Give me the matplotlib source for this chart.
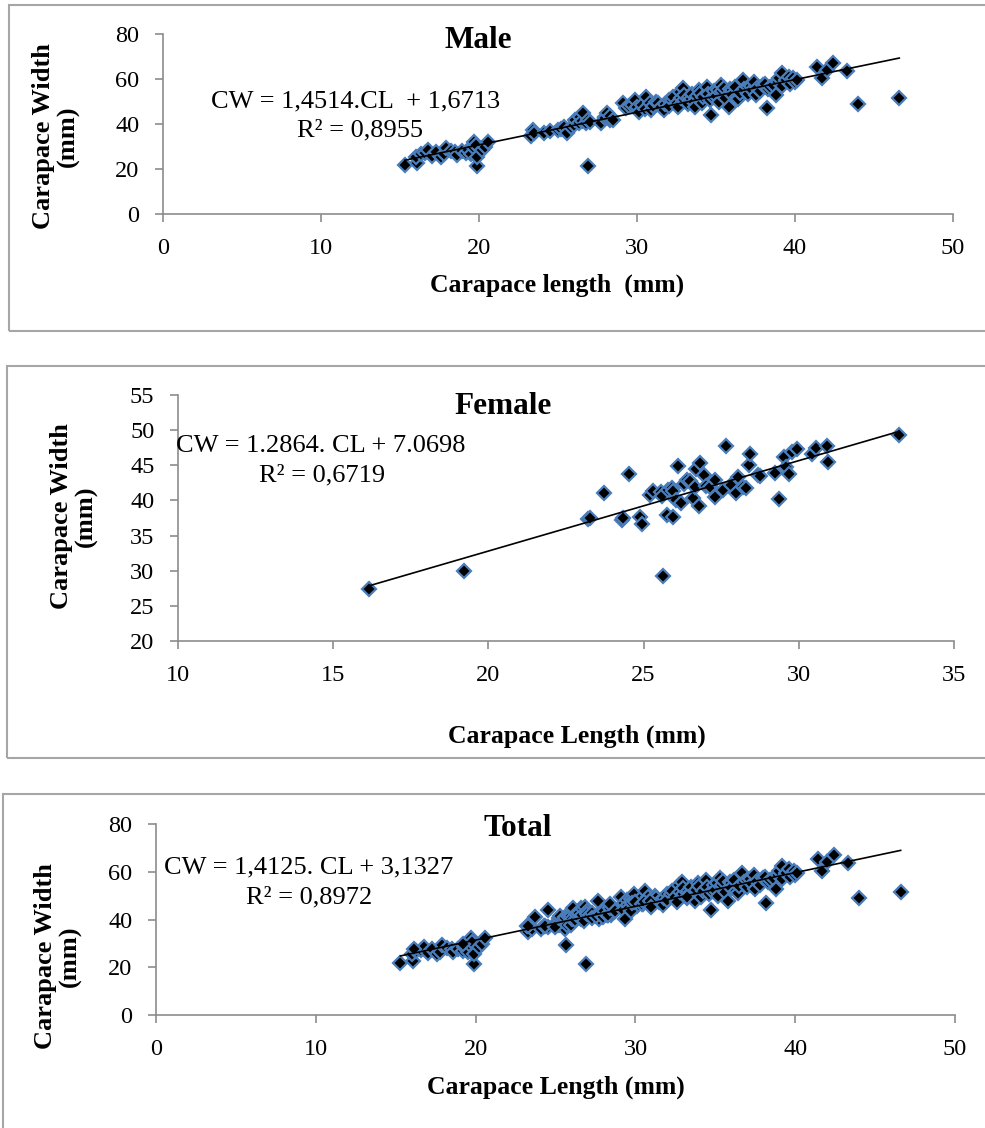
import matplotlib
matplotlib.use("Agg")
import matplotlib.pyplot as plt
from matplotlib.patches import Rectangle

plt.rcParams['font.family'] = ['Liberation Serif', 'DejaVu Serif']

# ---- data ----
male_cl = [15.3, 16.1, 16.0, 16.3, 16.6, 16.8, 17.0, 17.3, 17.6, 17.8, 17.9, 18.2, 18.5, 18.6,
           18.9, 19.2, 19.3, 19.5, 19.6, 19.7, 19.8, 19.9, 19.9, 20.2, 20.4, 20.6,
           23.3, 23.4, 23.5, 24.1, 24.5, 25.0, 25.2, 25.4, 25.6, 25.8, 26.0, 26.1, 26.3, 26.4,
           26.5, 26.6, 26.8, 26.9, 26.9, 27.0, 27.7, 28.0, 28.0, 28.1, 28.3, 28.3, 28.5,
           29.1, 29.3, 29.5, 29.7, 29.9, 30.0, 30.1, 30.3, 30.5, 30.6, 30.8, 30.9, 31.0, 31.2,
           31.3, 31.5, 31.7, 31.8, 32.0, 32.0, 32.2, 32.3, 32.5, 32.6, 32.7, 32.8, 32.9, 33.0,
           33.0, 33.2, 33.3, 33.4, 33.5, 33.6, 33.7, 33.8, 33.9, 34.0, 34.1, 34.2, 34.4, 34.5,
           34.6, 34.7, 34.8, 34.9, 35.0, 35.1, 35.2, 35.3, 35.4, 35.5, 35.6, 35.8, 35.9, 36.0,
           36.0, 36.2, 36.3, 36.4, 36.5, 36.7, 36.8, 37.0, 37.0, 37.2, 37.3, 37.4, 37.5, 37.6,
           37.8, 38.0, 38.1, 38.2, 38.3, 38.4, 38.6, 38.8, 38.9, 39.0, 39.2, 39.2, 39.4, 39.6,
           39.7, 39.9, 40.0, 40.1, 41.4, 41.7, 42.0, 42.4, 43.3, 44.0, 46.6]
male_cw = [21.8, 22.8, 25.5, 26.8, 27.2, 28.4, 26.0, 27.5, 25.5, 26.5, 29.3, 28.0, 27.7, 26.2,
           27.8, 27.0, 28.5, 26.5, 29.9, 32.1, 30.5, 21.5, 25.5, 28.5, 29.9, 32.1,
           34.7, 37.3, 36.2, 35.9, 37.0, 37.3, 37.8, 38.8, 36.0, 38.5, 39.5, 41.8, 40.5, 43.2,
           41.5, 44.7, 40.3, 42.0, 21.5, 41.0, 40.3, 43.2, 42.5, 44.9, 41.8, 43.5, 42.0,
           49.5, 47.0, 48.0, 48.4, 50.7, 47.5, 45.5, 48.5, 46.5, 51.9, 49.5, 46.2, 48.0, 50.0,
           49.2, 47.5, 46.2, 49.0, 50.7, 48.0, 50.5, 52.1, 49.5, 47.5, 54.4, 51.5, 55.9, 50.7,
           53.0, 49.0, 52.1, 51.0, 53.5, 50.0, 47.7, 52.5, 55.1, 54.0, 49.5, 52.0, 56.6, 53.5,
           50.5, 44.0, 52.1, 54.5, 52.5, 55.1, 50.0, 57.3, 54.5, 56.0, 51.5, 47.7, 55.5, 55.1,
           53.0, 56.5, 52.1, 51.0, 54.0, 59.6, 55.5, 56.6, 53.5, 57.0, 55.0, 58.8, 52.9, 56.0,
           54.5, 57.3, 58.0, 47.0, 55.5, 56.6, 57.5, 52.9, 58.5, 60.3, 62.5, 57.0, 59.5, 61.0,
           58.0, 60.5, 58.8, 59.5, 65.5, 60.3, 64.0, 67.0, 63.7, 48.8, 51.4]

female_cl = [16.15, 19.23, 23.22, 23.26, 23.74, 24.29, 24.34, 24.53, 24.9, 24.94, 25.2, 25.3,
             25.57, 25.6, 25.63, 25.75, 25.8, 25.93, 25.95, 25.96, 26.04, 26.1, 26.2, 26.29,
             26.4, 26.5, 26.6, 26.65, 26.7, 26.8, 26.83, 26.95, 27.0, 27.13, 27.3, 27.3,
             27.55, 27.64, 27.8, 27.97, 28.03, 28.2, 28.3, 28.4, 28.43, 28.7, 28.75, 29.23,
             29.35, 29.53, 29.6, 29.7, 29.77, 29.95, 30.43, 30.55, 30.91, 30.95, 33.24]
female_cw = [27.45, 29.9, 37.33, 37.45, 41.1, 37.2, 37.45, 43.8, 37.7, 36.65, 40.8, 41.37,
             41.2, 40.66, 29.25, 37.9, 41.5, 41.7, 41.37, 37.6, 40.06, 44.95, 39.7, 42.4,
             42.9, 42.8, 40.4, 41.95, 44.45, 39.2, 45.3, 43.6, 42.1, 41.95, 42.9, 40.5,
             41.5, 47.7, 42.2, 41.0, 43.4, 41.95, 41.8, 45.0, 46.6, 43.6, 43.5, 43.85,
             40.15, 46.2, 44.7, 43.75, 46.9, 47.3, 46.6, 47.5, 47.7, 45.4, 49.3]

# total = both sexes together
total_cl = male_cl + female_cl
total_cw = male_cw + female_cw

# fitted lines printed on the chart (slope, intercept)
male_fit = (1.4514, 1.6713)
female_fit = (1.2864, 7.0698)
total_fit = (1.4125, 3.1327)

W, H = 985, 1128
fig = plt.figure(figsize=(W / 100, H / 100), dpi=100)

AX_GRAY = '#8C8C8C'
BOX_GRAY = '#A6A6A6'
EDGE_BLUE = '#4A7EBB'


def fx(px):
    return px / W


def fy(py):
    return 1 - py / H


def panel(rect, cl, cw, fit, xlim, ylim, xstep, ystep):
    l, r, t, b = rect
    ax = fig.add_axes([fx(l), fy(b), fx(r - l), fy(t) - fy(b)])
    ax.plot(cl, cw, ls='none', marker='D', ms=7, mfc='black', mec=EDGE_BLUE, mew=1.6,
            clip_on=False, zorder=3)
    x0, x1 = min(cl), max(cl)
    ax.plot([x0, x1], [fit[0] * x0 + fit[1], fit[0] * x1 + fit[1]], color='black', lw=1.2,
            zorder=4)
    ax.set_xlim(*xlim)
    ax.set_ylim(*ylim)
    ax.set_xticks(range(xlim[0], xlim[1] + 1, xstep))
    ax.set_yticks(range(ylim[0], ylim[1] + 1, ystep))
    for s in ['top', 'right']:
        ax.spines[s].set_visible(False)
    for s in ['left', 'bottom']:
        ax.spines[s].set_color(AX_GRAY)
        ax.spines[s].set_linewidth(1.2)
    ax.tick_params(axis='both', color=AX_GRAY, width=1.2, length=6, labelsize=17.5)
    ax.tick_params(axis='x', pad=11)
    ax.tick_params(axis='y', pad=11)
    return ax


def box(left, top, bottom):
    fig.add_artist(Rectangle((fx(left), fy(bottom)), fx(W + 10 - left), fy(top) - fy(bottom),
                             transform=fig.transFigure, fill=False, ec=BOX_GRAY, lw=1.5))


def ylabel(x, y):
    fig.text(fx(x), fy(y), 'Carapace Width\n(mm)', fontsize=19, fontweight='bold', rotation=90,
             ha='center', va='center', multialignment='center', linespacing=1.05)


# ---- Male ----
box(9, 5, 331)
panel((163, 953, 34, 214), male_cl, male_cw, male_fit, (0, 50), (0, 80), 10, 20)
fig.text(fx(478), fy(40), 'Male', fontsize=22.5, fontweight='bold', ha='center', va='center')
fig.text(fx(356), fy(101), 'CW = 1,4514.CL  + 1,6713', fontsize=19, ha='center', va='center')
fig.text(fx(360), fy(130), 'R² = 0,8955', fontsize=19, ha='center', va='center')
fig.text(fx(557), fy(285), 'Carapace length  (mm)', fontsize=18.5, fontweight='bold',
         ha='center', va='center')
ylabel(56, 136)

# ---- Female ----
box(7, 366, 758)
panel((178, 954, 395, 641), female_cl, female_cw, female_fit, (10, 35), (20, 55), 5, 5)
fig.text(fx(503), fy(406), 'Female', fontsize=22.5, fontweight='bold', ha='center', va='center')
fig.text(fx(321), fy(446), 'CW = 1.2864. CL + 7.0698', fontsize=19, ha='center', va='center')
fig.text(fx(322), fy(475), 'R² = 0,6719', fontsize=19, ha='center', va='center')
fig.text(fx(577), fy(736), 'Carapace Length (mm)', fontsize=18.5, fontweight='bold',
         ha='center', va='center')
ylabel(74, 516)

# ---- Total ----
box(3, 794, H + 10)
panel((156, 955, 824, 1015), total_cl, total_cw, total_fit, (0, 50), (0, 80), 10, 20)
fig.text(fx(518), fy(828), 'Total', fontsize=22.5, fontweight='bold', ha='center', va='center')
fig.text(fx(309), fy(867), 'CW = 1,4125. CL + 3,1327', fontsize=19, ha='center', va='center')
fig.text(fx(309), fy(897), 'R² = 0,8972', fontsize=19, ha='center', va='center')
fig.text(fx(556), fy(1087), 'Carapace Length (mm)', fontsize=18.5, fontweight='bold',
         ha='center', va='center')
ylabel(58, 956)

fig.savefig('out.png', dpi=100)
